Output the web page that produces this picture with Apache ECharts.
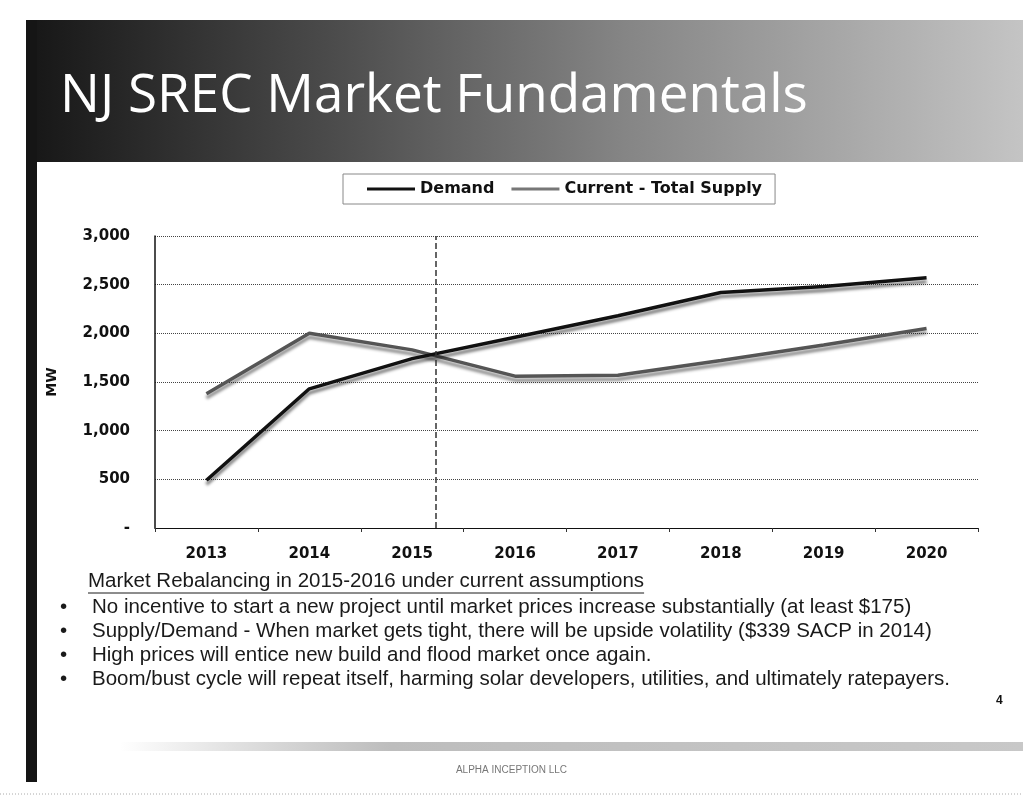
<!DOCTYPE html>
<html>
<head>
<meta charset="utf-8">
<script src="https://cdn.jsdelivr.net/npm/echarts@6/dist/echarts.min.js"></script>
<style>
html,body{margin:0;padding:0;background:#fff;}
#chart{width:1023px;height:799px;}
</style>
</head>
<body>
<div id="chart"></div>
<script>
// ---- data ----
var years = ['2013','2014','2015','2016','2017','2018','2019','2020'];
var demand = [490, 1430, 1740, 1960, 2180, 2420, 2480, 2570];
var supply = [1380, 2000, 1830, 1560, 1570, 1720, 1880, 2050];
var yTicks = [0, 500, 1000, 1500, 2000, 2500, 3000];
var markerPosition = [2.73]; // dotted vertical marker, in category units from the left edge
var titleText = 'NJ SREC Market Fundamentals';
var headingText = 'Market Rebalancing in 2015-2016 under current assumptions';
var bullets = [
  'No incentive to start a new project until market prices increase substantially (at least $175)',
  'Supply/Demand - When market gets tight, there will be upside volatility ($339 SACP in 2014)',
  'High prices will entice new build and flood market once again.',
  'Boom/bust cycle will repeat itself, harming solar developers, utilities, and ultimately ratepayers.'
];
var footerText = 'ALPHA INCEPTION LLC';
var pageNumber = '4';

var chart = echarts.init(document.getElementById('chart'), null, {renderer:'canvas'});

// measure heading width for underline
var cv = document.createElement('canvas').getContext('2d');
var bodyFont = '20.5px "Liberation Sans", Arial, sans-serif';
cv.font = bodyFont;
var headingW = cv.measureText(headingText).width;

var graphics = [
  {type:'rect', z:-10, shape:{x:26, y:20, width:997, height:142},
   style:{fill:new echarts.graphic.LinearGradient(0,0,1,0,[
     {offset:0,color:'#161616'},{offset:0.3,color:'#4a4a4a'},{offset:0.6,color:'#858585'},{offset:1,color:'#c4c4c4'}])}},
  {type:'rect', z:-10, shape:{x:26, y:20, width:11, height:762}, style:{fill:'#151515'}},
  {type:'text', left:60, top:70, style:{text:titleText, fill:'#ffffff',
     font:'53px "Open Sans", sans-serif'}},
  {type:'text', left:88, top:571, style:{text:headingText, fill:'#1a1a1a', font:bodyFont}},
  {type:'line', shape:{x1:88, y1:593, x2:88+headingW, y2:593}, style:{stroke:'#1a1a1a', lineWidth:1}},
  {type:'rect', z:-10, shape:{x:120, y:742, width:903, height:9},
   style:{fill:new echarts.graphic.LinearGradient(0,0,1,0,[
     {offset:0,color:'rgba(180,180,180,0)'},{offset:0.3,color:'#bdbdbd'},{offset:1,color:'#c8c8c8'}])}},
  {type:'text', left:'center', top:765, style:{text:footerText, fill:'#777',
     font:'10px "Liberation Sans", Arial, sans-serif'}},
  {type:'text', left:996, top:695, style:{text:pageNumber, fill:'#111',
     font:'bold 12px "Liberation Sans", Arial, sans-serif'}},
  {type:'line', shape:{x1:0, y1:794, x2:1023, y2:794}, style:{stroke:'#aaa', lineWidth:1, lineDash:[1,2]}}
];
bullets.forEach(function(b, i){
  graphics.push({type:'text', left:60, top:597 + i*24, style:{text:'\u2022', fill:'#1a1a1a', font:bodyFont}});
  graphics.push({type:'text', left:92, top:597 + i*24, style:{text:b, fill:'#1a1a1a', font:bodyFont}});
});

var option = {
  backgroundColor:'#ffffff',
  animation:false,
  graphic: graphics,
  legend: {
    data:['Demand','Current - Total Supply'],
    icon:'rect',
    left:343, top:174,
    padding:[7,13,7,24],
    borderColor:'#888', borderWidth:1,
    itemWidth:48, itemHeight:3, itemGap:17,
    textStyle:{fontFamily:'"DejaVu Sans", sans-serif', fontWeight:'bold', fontSize:16, color:'#111'}
  },
  grid:{left:155, right:45, top:236, bottom:271, containLabel:false},
  xAxis:[
    {type:'category', data:years, boundaryGap:true,
     axisLine:{lineStyle:{color:'#111', width:1}},
     axisTick:{show:true, length:4, lineStyle:{color:'#333'}},
     axisLabel:{margin:19, color:'#111', fontFamily:'"DejaVu Sans", sans-serif', fontWeight:'bold', fontSize:15},
     splitLine:{show:false}},
    {type:'value', min:0, max:years.length, show:false, gridIndex:0}
  ],
  yAxis:{
    type:'value', min:yTicks[0], max:yTicks[yTicks.length-1], interval:yTicks[1]-yTicks[0],
    name:'MW', nameLocation:'middle', nameGap:96, nameRotate:90,
    nameTextStyle:{fontFamily:'"DejaVu Sans", sans-serif', fontWeight:'bold', fontSize:14, color:'#111'},
    axisLine:{show:true, lineStyle:{color:'#111', width:1.5}},
    axisTick:{show:false},
    axisLabel:{margin:25, color:'#111', fontFamily:'"DejaVu Sans", sans-serif', fontWeight:'bold', fontSize:15,
      formatter:function(v){ return v===0 ? '-' : v.toLocaleString('en-US'); }},
    splitLine:{show:true, lineStyle:{type:'dotted', color:'#444', width:1}}
  },
  series:[
    {name:'Demand', type:'line', data:demand, symbol:'none', z:4,
     itemStyle:{color:'#111'},
     lineStyle:{color:'#111', width:3.5, shadowColor:'rgba(0,0,0,0.5)', shadowBlur:3, shadowOffsetY:4}},
    {name:'Current - Total Supply', type:'line', data:supply, symbol:'none', z:3,
     itemStyle:{color:'#777'},
     lineStyle:{color:'#555', width:3.5, shadowColor:'rgba(0,0,0,0.45)', shadowBlur:3, shadowOffsetY:4}},
    {name:'marker', type:'line', xAxisIndex:1, yAxisIndex:0, data:[], symbol:'none',
     markLine:{silent:true, symbol:'none', label:{show:false},
       lineStyle:{type:'dashed', color:'#333', width:1.5},
       data: markerPosition.map(function(p){ return {xAxis:p}; })}}
  ]
};
chart.setOption(option);
</script>
</body>
</html>
